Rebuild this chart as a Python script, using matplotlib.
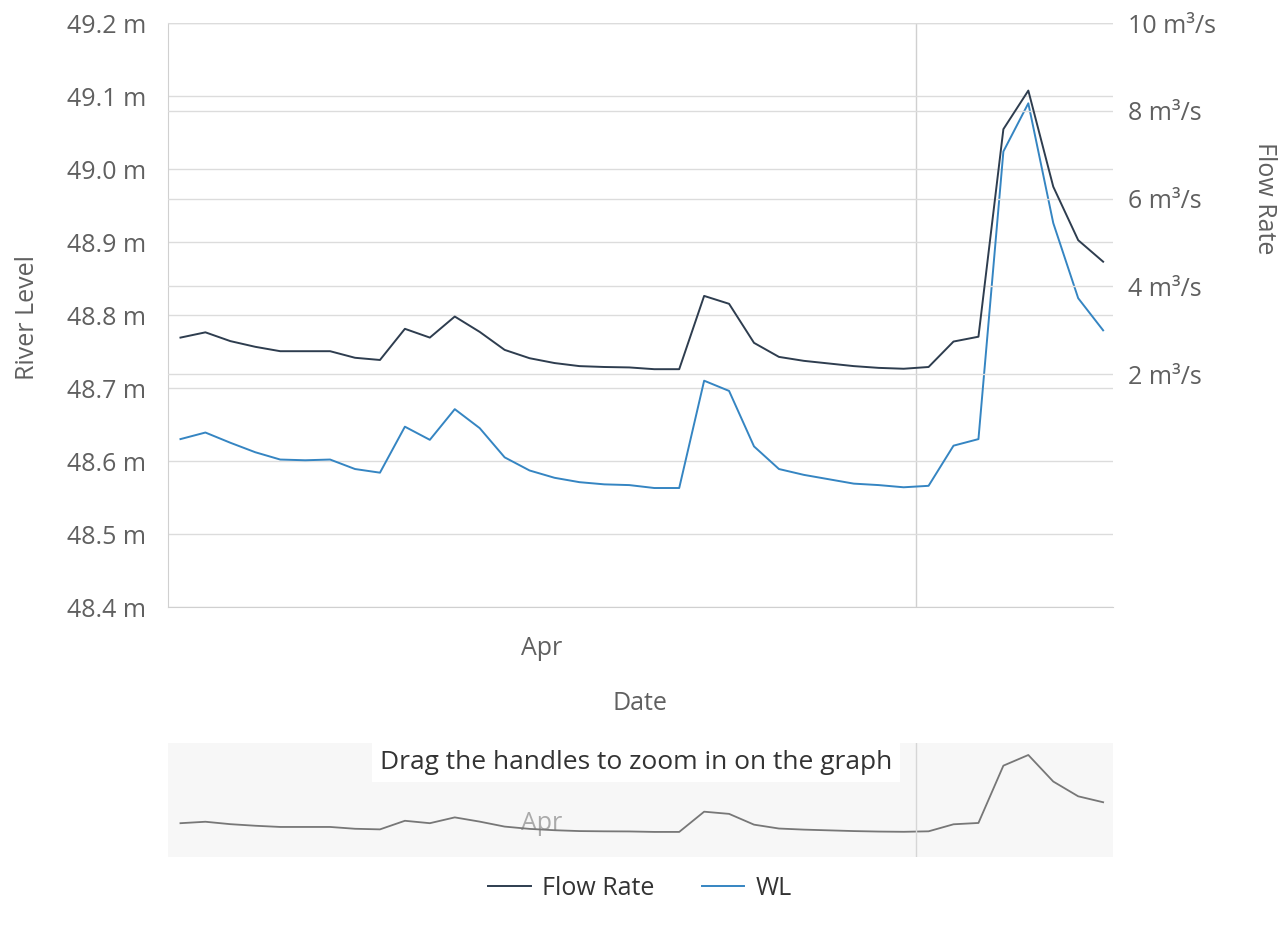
import matplotlib
matplotlib.use("Agg")
import matplotlib.pyplot as plt
import pandas as pd
from matplotlib.lines import Line2D

plt.rcParams['font.family'] = ['Open Sans', 'DejaVu Sans']

# ---- data ----
dates = pd.date_range("2023-03-17 12:00", periods=38, freq="D")
flow_rate = [2.83, 2.95, 2.75, 2.62, 2.52, 2.52, 2.52, 2.37, 2.32, 3.03,
             2.83, 3.31, 2.96, 2.55, 2.36, 2.25, 2.18, 2.16, 2.15, 2.11,
             2.11, 3.78, 3.60, 2.71, 2.39, 2.30, 2.24, 2.18, 2.14, 2.12,
             2.16, 2.74, 2.85, 7.58, 8.46, 6.27, 5.05, 4.56]
water_level = [48.630, 48.639, 48.625, 48.612, 48.602, 48.601, 48.602, 48.589, 48.584, 48.647,
               48.629, 48.671, 48.645, 48.605, 48.587, 48.577, 48.571, 48.568, 48.567, 48.563,
               48.563, 48.710, 48.696, 48.620, 48.589, 48.581, 48.575, 48.569, 48.567, 48.564,
               48.566, 48.621, 48.630, 49.024, 49.090, 48.926, 48.823, 48.779]
left_ticks = [48.4, 48.5, 48.6, 48.7, 48.8, 48.9, 49.0, 49.1, 49.2]
left_labels = ["48.4 m", "48.5 m", "48.6 m", "48.7 m", "48.8 m", "48.9 m", "49.0 m", "49.1 m", "49.2 m"]
right_ticks = [2, 4, 6, 8, 10]
right_labels = ["2 m³/s", "4 m³/s", "6 m³/s", "8 m³/s", "10 m³/s"]
x_tick = [pd.Timestamp("2023-04-01 00:00")]
x_tick_labels = ["Apr"]
marker_line = pd.Timestamp("2023-04-16 00:00")

FLOW_C = "#2e3d4f"
WL_C = "#3585c2"
GRID_C = "#dcdcdc"
TICK_C = "#606060"
FS = 18

W, H = 1281, 930
fig = plt.figure(figsize=(W / 100, H / 100), dpi=100)

def rect(x0, y0, x1, y1):
    return [x0 / W, 1 - y1 / H, (x1 - x0) / W, (y1 - y0) / H]

xmin = pd.Timestamp("2023-03-17 00:00")
xmax = pd.Timestamp("2023-04-23 21:30")

ax = fig.add_axes(rect(168, 23, 1113, 607))
ax2 = ax.twinx()

ax.set_xlim(xmin, xmax)
ax.set_ylim(48.4, 49.2)
ax2.set_ylim(-3.31, 10)

ax.set_yticks(left_ticks)
ax.set_yticklabels(left_labels)
ax2.set_yticks(right_ticks)
ax2.set_yticklabels(right_labels)
ax.set_xticks(x_tick)
ax.set_xticklabels(x_tick_labels)

ax.tick_params(axis='y', length=0, pad=16, labelsize=FS, labelcolor=TICK_C)
ax2.tick_params(axis='y', length=0, pad=11, labelsize=FS, labelcolor=TICK_C)
ax.tick_params(axis='x', length=0, pad=21, labelsize=FS, labelcolor=TICK_C)

ax.grid(axis='y', color=GRID_C, linewidth=1.0)
ax.set_axisbelow(True)
for t in right_ticks:
    ax2.axhline(t, color=GRID_C, linewidth=1.0, zorder=0)
ax.axvline(marker_line, color="#d0d0d0", linewidth=1.0, zorder=0)

for a in (ax, ax2):
    for s in a.spines.values():
        s.set_visible(False)
ax.spines["left"].set_visible(True)
ax.spines["left"].set_color("#d0d0d0")
ax.spines["bottom"].set_visible(True)
ax.spines["bottom"].set_color("#d0d0d0")

ax.plot(dates, water_level, color=WL_C, linewidth=1.4, zorder=3)
ax2.plot(dates, flow_rate, color=FLOW_C, linewidth=1.4, zorder=3)

fig.text(27 / W, 1 - 318 / H, "River Level", rotation=90, ha='center', va='center',
         fontsize=FS, color=TICK_C)
fig.text(1265 / W, 1 - 198 / H, "Flow Rate", rotation=270, ha='center', va='center',
         fontsize=FS, color=TICK_C)
fig.text(640 / W, 1 - 703 / H, "Date", ha='center', va='center', fontsize=FS, color=TICK_C)

# ---- navigator ----
nav = fig.add_axes(rect(168, 743, 1113, 857))
nav.set_facecolor("#f7f7f7")
nav.set_xlim(xmin, xmax)
nav.set_ylim(0.04, 9.45)
nav.plot(dates, flow_rate, color="#777777", linewidth=1.3)
nav.axvline(marker_line, color="#d6d6d6", linewidth=1.0)
for s in nav.spines.values():
    s.set_visible(False)
nav.set_yticks([])
nav.set_xticks(x_tick)
nav.set_xticklabels(x_tick_labels)
nav.tick_params(axis='x', length=0, direction='in', pad=-33, labelsize=FS, labelcolor="#aaaaaa")

fig.text(636 / W, 1 - 762 / H, "Drag the handles to zoom in on the graph", ha='center', va='center',
         fontsize=19, color="#333333",
         bbox=dict(boxstyle="square,pad=0.3", facecolor="white", edgecolor="none"))

# ---- legend ----
handles = [Line2D([], [], color=FLOW_C, linewidth=1.4),
           Line2D([], [], color=WL_C, linewidth=1.4)]
fig.legend(handles, ["Flow Rate", "WL"], loc='center', bbox_to_anchor=(640 / W, 1 - 888 / H),
           ncol=2, frameon=False, fontsize=FS, handlelength=1.7, handletextpad=0.45,
           columnspacing=1.9, labelcolor="#333333")

fig.savefig("out.png", dpi=100)
